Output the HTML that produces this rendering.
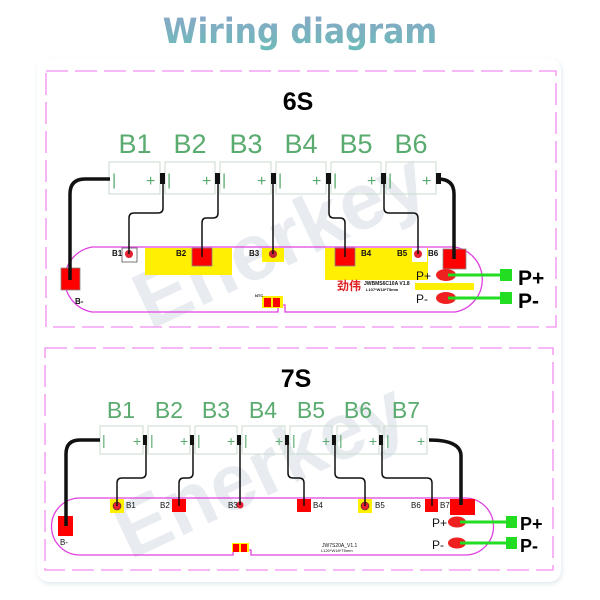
<!DOCTYPE html>
<html><head><meta charset="utf-8"><style>
html,body{margin:0;padding:0;background:#fff;width:600px;height:600px;overflow:hidden}
svg{display:block}
</style></head><body>
<svg width="600" height="600" viewBox="0 0 600 600" xmlns="http://www.w3.org/2000/svg" font-family="Liberation Sans, sans-serif">
<defs>
<linearGradient id="tg" x1="0" y1="0" x2="0" y2="1"><stop offset="0" stop-color="#8aa6c8"/><stop offset="1" stop-color="#6cbcb8"/></linearGradient>
<filter id="sh" x="-5%" y="-5%" width="110%" height="110%"><feGaussianBlur stdDeviation="2.5"/></filter>
</defs>
<text x="300" y="43" text-anchor="middle" font-size="35" font-weight="bold" fill="url(#tg)" font-family="DejaVu Sans Condensed, DejaVu Sans, sans-serif">Wiring diagram</text>
<rect x="38" y="60" width="524" height="524" rx="12" fill="#dfe8ee" filter="url(#sh)"/>
<rect x="37" y="58" width="524" height="524" rx="12" fill="#fff"/>

<!-- watermark -->
<g fill="#c8d2dc" opacity="0.4" font-size="80" font-weight="bold">
<text x="0" y="0" transform="translate(150 330) rotate(-25)">Enerkey</text>
<text x="0" y="0" transform="translate(130 560) rotate(-25)">Enerkey</text>
</g>

<!-- 6S panel -->
<rect x="46" y="71" width="510" height="256" fill="none" stroke="#f08ef0" stroke-width="1.3" stroke-dasharray="22,7"/>
<text x="298" y="110" text-anchor="middle" font-size="25" font-weight="bold">6S</text>
<g font-size="27" fill="#5aab6f" text-anchor="middle">
<text x="135" y="153">B1</text><text x="190" y="153">B2</text><text x="246" y="153">B3</text><text x="301" y="153">B4</text><text x="356" y="153">B5</text><text x="411" y="153">B6</text>
</g>
<g fill="none" stroke="#c9dccf" stroke-width="1">
<rect x="109" y="162" width="51" height="32"/><rect x="165" y="162" width="50" height="32"/><rect x="220" y="162" width="51" height="32"/><rect x="276" y="162" width="50" height="32"/><rect x="331" y="162" width="50" height="32"/><rect x="386" y="162" width="50" height="32"/>
</g>
<g fill="#5aab6f" font-size="16">
<text x="112" y="185">|</text><text x="146" y="186">+</text>
<text x="167" y="185">|</text><text x="202" y="186">+</text>
<text x="222" y="185">|</text><text x="257" y="186">+</text>
<text x="278" y="185">|</text><text x="312" y="186">+</text>
<text x="333" y="185">|</text><text x="367" y="186">+</text>
<text x="388" y="185">|</text><text x="422" y="186">+</text>
</g>
<g fill="#111"><rect x="160" y="173" width="5" height="11"/><rect x="215" y="173" width="5" height="11"/><rect x="271" y="173" width="5" height="11"/><rect x="326" y="173" width="5" height="11"/><rect x="381" y="173" width="5" height="11"/><rect x="436" y="173" width="5" height="11"/></g>
<path d="M92 247 H455 A33 33 0 0 1 455 312 H285 V305 H278 V312 H92 A33 33 0 0 1 92 247 Z" fill="none" stroke="#e040e0" stroke-width="1.3"/>
<g fill="#ffef00"><rect x="145" y="248" width="87" height="27"/><rect x="262" y="248" width="22" height="14"/><rect x="325" y="248" width="103" height="32"/><rect x="415" y="283" width="59" height="7"/><rect x="262" y="296" width="21" height="12"/></g>
<rect x="122" y="248" width="15" height="14" fill="#fff" stroke="#555" stroke-width="0.8"/>
<circle cx="129" cy="254" r="4" fill="#e52030"/>
<rect x="192" y="248" width="20" height="18" fill="#f00" stroke="#888" stroke-width="0.8"/>
<circle cx="273" cy="254" r="4" fill="#c02030"/>
<rect x="335" y="248" width="20" height="18" fill="#f00" stroke="#888" stroke-width="0.8"/>
<rect x="412" y="248" width="15" height="14" fill="#fff"/>
<circle cx="418" cy="254" r="4" fill="#e52030"/>
<rect x="443" y="249" width="23" height="20" fill="#f00" stroke="#888" stroke-width="0.8"/>
<rect x="61" y="268" width="19" height="22" fill="#f00" stroke="#888" stroke-width="0.8"/>
<rect x="264" y="298" width="7" height="9" fill="#f00"/><rect x="273" y="298" width="7" height="9" fill="#f00"/>
<g font-size="8" font-weight="bold" fill="#111">
<text x="112" y="256">B1</text><text x="176" y="256">B2</text><text x="249" y="256">B3</text><text x="361" y="256">B4</text><text x="397" y="256">B5</text><text x="428" y="256">B6</text><text x="75" y="304">B-</text>
<text x="255" y="297" font-size="4">NTC</text>
<text x="364" y="285" font-size="5">JWBMS6C10A V1.8</text><text x="366" y="291" font-size="4">L107*W18*T5mm</text>
</g>
<text x="337" y="290" font-size="12" font-weight="bold" fill="#e02020" font-family="Noto Sans CJK SC, sans-serif">劲伟</text>
<text x="416" y="280" font-size="12" fill="#111">P+</text><text x="416" y="303" font-size="12" fill="#111">P-</text>
<ellipse cx="446" cy="275" rx="10" ry="6" fill="#ee2020"/><ellipse cx="446" cy="298" rx="10" ry="6" fill="#ee2020"/>
<g stroke="#22dd22" stroke-width="3"><line x1="448" y1="275" x2="505" y2="275"/><line x1="448" y1="298" x2="505" y2="298"/></g>
<rect x="500" y="269" width="12" height="12" fill="#22dd22"/><rect x="500" y="292" width="12" height="12" fill="#22dd22"/>
<text x="518" y="285" font-size="21" font-weight="bold">P+</text><text x="518" y="308" font-size="21" font-weight="bold">P-</text>
<g fill="none" stroke="#111" stroke-width="1.5">
<path d="M163 184 V208 Q163 213 158 213 H134 Q129 213 129 218 V254"/>
<path d="M218 184 V213 Q218 218 213 218 H206 Q202 218 202 223 V257"/>
<path d="M273 184 V254"/>
<path d="M329 184 V213 Q329 218 334 218 H340 Q345 218 345 223 V257"/>
<path d="M384 184 V208 Q384 213 389 213 H413 Q418 213 418 218 V254"/>
</g>
<g fill="none" stroke="#111" stroke-width="3.5">
<path d="M110 179 H85 Q70 179 70 194 V280"/>
<path d="M438 179 Q454 179 454 194 V259"/>
</g>

<!-- 7S panel -->
<rect x="45" y="348" width="508" height="222" fill="none" stroke="#f08ef0" stroke-width="1.3" stroke-dasharray="22,7"/>
<text x="296" y="387" text-anchor="middle" font-size="25" font-weight="bold">7S</text>
<g font-size="23" fill="#5aab6f" text-anchor="middle">
<text x="121" y="418">B1</text><text x="169" y="418">B2</text><text x="216" y="418">B3</text><text x="263" y="418">B4</text><text x="311" y="418">B5</text><text x="358" y="418">B6</text><text x="406" y="418">B7</text>
</g>
<g fill="none" stroke="#c9dccf" stroke-width="1">
<rect x="100" y="426" width="43" height="28"/><rect x="148" y="426" width="42" height="28"/><rect x="195" y="426" width="42" height="28"/><rect x="242" y="426" width="43" height="28"/><rect x="290" y="426" width="42" height="28"/><rect x="337" y="426" width="42" height="28"/><rect x="384" y="426" width="43" height="28"/>
</g>
<g fill="#5aab6f" font-size="14">
<text x="102" y="445">|</text><text x="133" y="446">+</text>
<text x="150" y="445">|</text><text x="180" y="446">+</text>
<text x="197" y="445">|</text><text x="227" y="446">+</text>
<text x="244" y="445">|</text><text x="275" y="446">+</text>
<text x="292" y="445">|</text><text x="322" y="446">+</text>
<text x="339" y="445">|</text><text x="369" y="446">+</text>
<text x="386" y="445">|</text><text x="417" y="446">+</text>
</g>
<g fill="#111"><rect x="143" y="435" width="4" height="10"/><rect x="190" y="435" width="4" height="10"/><rect x="237" y="435" width="4" height="10"/><rect x="285" y="435" width="4" height="10"/><rect x="332" y="435" width="4" height="10"/><rect x="379" y="435" width="4" height="10"/></g>
<path d="M80 498 H465 A27 27 0 0 1 465 555 H251 V550 H233 V555 H80 A27 27 0 0 1 80 498 Z" fill="none" stroke="#e040e0" stroke-width="1.3"/>
<rect x="110" y="499" width="14" height="14" fill="#ffef00"/><circle cx="117" cy="506" r="4" fill="#e52030" stroke="#333" stroke-width="0.6"/>
<rect x="172" y="499" width="14" height="13" fill="#f00"/>
<circle cx="240" cy="505" r="3.5" fill="#e52030"/>
<rect x="297" y="499" width="14" height="13" fill="#f00"/>
<rect x="358" y="499" width="14" height="14" fill="#ffef00"/><circle cx="365" cy="506" r="4" fill="#e52030" stroke="#333" stroke-width="0.6"/>
<rect x="425" y="499" width="13" height="13" fill="#f00"/>
<rect x="450" y="499" width="25" height="16" fill="#f00"/>
<rect x="58" y="516" width="15" height="20" fill="#f00"/>
<rect x="232" y="543" width="17" height="9" fill="#ffef00"/><rect x="233" y="544" width="6" height="8" fill="#f00"/><rect x="241" y="544" width="6" height="8" fill="#f00"/>
<g font-size="8" fill="#111">
<text x="126" y="508">B1</text><text x="160" y="508">B2</text><text x="228" y="508">B3</text><text x="313" y="508">B4</text><text x="375" y="508">B5</text><text x="411" y="508">B6</text><text x="440" y="508">B7</text><text x="60" y="545">B-</text>
<text x="322" y="547" font-size="5">JW7S20A_V1.1</text><text x="321" y="552" font-size="4">L120*W18*T5mm</text>
</g>
<text x="432" y="527" font-size="12" fill="#111">P+</text><text x="432" y="549" font-size="12" fill="#111">P-</text>
<ellipse cx="457" cy="522" rx="9" ry="5.5" fill="#ee2020"/><ellipse cx="457" cy="543" rx="9" ry="5.5" fill="#ee2020"/>
<g stroke="#22dd22" stroke-width="3"><line x1="460" y1="522" x2="510" y2="522"/><line x1="460" y1="543" x2="510" y2="543"/></g>
<rect x="506" y="516" width="11" height="12" fill="#22dd22"/><rect x="506" y="537" width="11" height="12" fill="#22dd22"/>
<text x="520" y="530" font-size="18" font-weight="bold">P+</text><text x="520" y="552" font-size="18" font-weight="bold">P-</text>
<g fill="none" stroke="#111" stroke-width="1.5">
<path d="M146 444 V473 Q146 478 141 478 H122 Q117 478 117 483 V506"/>
<path d="M193 444 V473 Q193 478 188 478 H184 Q179 478 179 483 V506"/>
<path d="M240 444 V505"/>
<path d="M288 444 V473 Q288 478 293 478 H299 Q304 478 304 483 V506"/>
<path d="M335 444 V473 Q335 478 340 478 H360 Q365 478 365 483 V506"/>
<path d="M382 444 V473 Q382 478 387 478 H427 Q432 478 432 483 V506"/>
</g>
<g fill="none" stroke="#111" stroke-width="3.5">
<path d="M100 440 H80 Q66 440 66 454 V526"/>
<path d="M429 440 Q461 440 461 456 V505"/>
</g>
</svg>
</body></html>
